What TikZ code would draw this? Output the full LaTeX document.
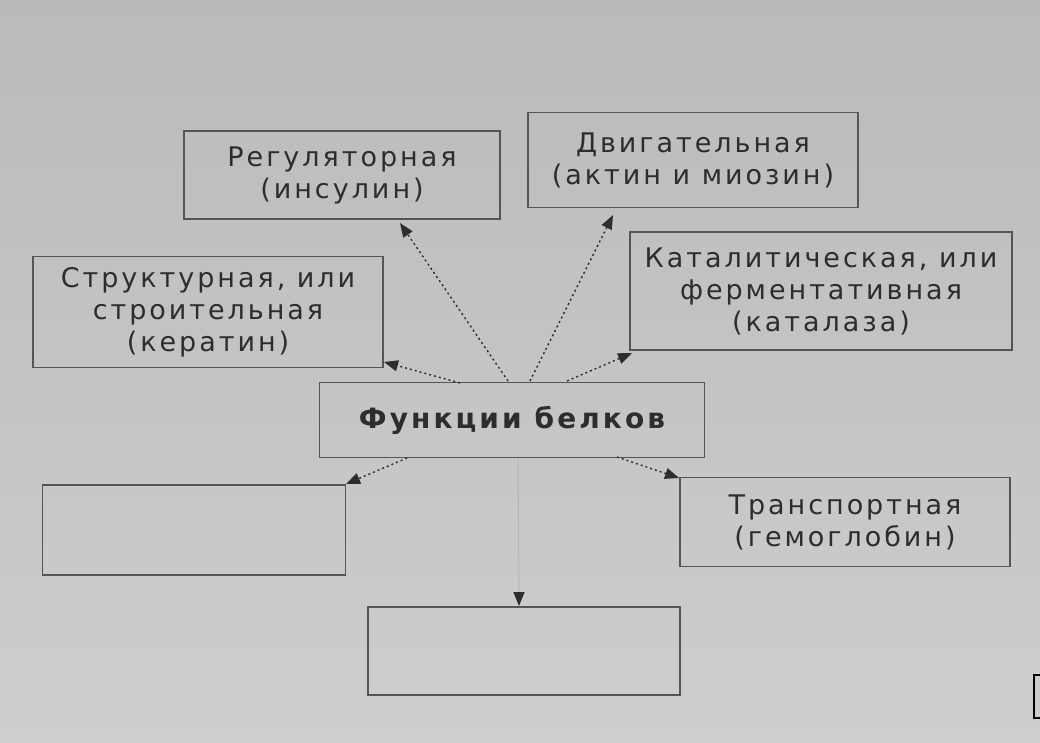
\documentclass[tikz,border=0pt]{standalone}
\usepackage{fontspec}
\setmainfont[LetterSpace=11]{DejaVu Sans}
\usetikzlibrary{arrows.meta,calc}
\definecolor{bgtop}{RGB}{186,186,189}
\definecolor{bgbot}{RGB}{206,206,208}
\definecolor{boxline}{RGB}{85,85,88}
\definecolor{ink}{RGB}{45,45,48}
\tikzset{
  fbox/.style={draw=boxline, line width=1.3pt, text=ink, align=center,
    inner sep=0pt, font=\fontsize{27}{32}\selectfont},
  conn/.style={draw=ink, line width=1.4pt, dash pattern=on 2pt off 3pt,
    -{Triangle[length=14pt,width=11pt]}},
}
\begin{document}
\begin{tikzpicture}[x=1pt,y=-1pt]
\shade[top color=bgtop, bottom color=bgbot] (0,0) rectangle (1040,742);
\useasboundingbox (0,0) rectangle (1040,742);

\node[fbox, minimum width=316pt, minimum height=88pt] (reg) at (342,175) {Регуляторная\\(инсулин)};
\node[fbox, minimum width=330pt, minimum height=95pt] (dvig) at (693,160) {Двигательная\\(актин и миозин)};
\node[fbox, minimum width=350pt, minimum height=111pt] (str) at (208,312) {Структурная, или\\строительная\\(кератин)};
\node[fbox, minimum width=382pt, minimum height=118pt] (kat) at (821,291) {Каталитическая, или\\ферментативная\\(каталаза)};
\node[fbox, minimum width=385pt, minimum height=75pt, font=\fontsize{28}{32}\selectfont\bfseries] (func) at (512,420) {Функции белков};
\node[fbox, minimum width=303pt, minimum height=90pt] (emptyL) at (194,530) {};
\node[fbox, minimum width=330pt, minimum height=89pt] (trans) at (845,522) {Транспортная\\(гемоглобин)};
\node[fbox, minimum width=312pt, minimum height=88pt] (emptyB) at (524,651) {};

% connector end points
\coordinate (s1) at (508,381);
\coordinate (t1) at (400,223);
\coordinate (s2) at (530,381);
\coordinate (t2) at (613,215);
\coordinate (s3) at (460,383);
\coordinate (t3) at (384,362);
\coordinate (s4) at (567,381);
\coordinate (t4) at (632,353);
\coordinate (s5) at (407,458);
\coordinate (t5) at (346,484);
\coordinate (s6) at (617,457);
\coordinate (t6) at (679,478);
\coordinate (s7) at (518,458);
\coordinate (t7) at (519,606);

\draw[conn] (s1) -- (t1);
\draw[conn] (s2) -- (t2);
\draw[conn] (s3) -- (t3);
\draw[conn] (s4) -- (t4);
\draw[conn] (s5) -- (t5);
\draw[conn] (s6) -- (t6);
\draw[draw=ink!15!bgbot, line width=1pt] (s7) -- ($(t7)+(0,-14)$);
\draw[conn, dash pattern=] ($(t7)+(0,-14)$) -- (t7);

% partial box at lower right edge
\draw[black, line width=2.5pt] (1046,675) -- (1034,675) -- (1034,718) -- (1046,718);
\end{tikzpicture}
\end{document}
